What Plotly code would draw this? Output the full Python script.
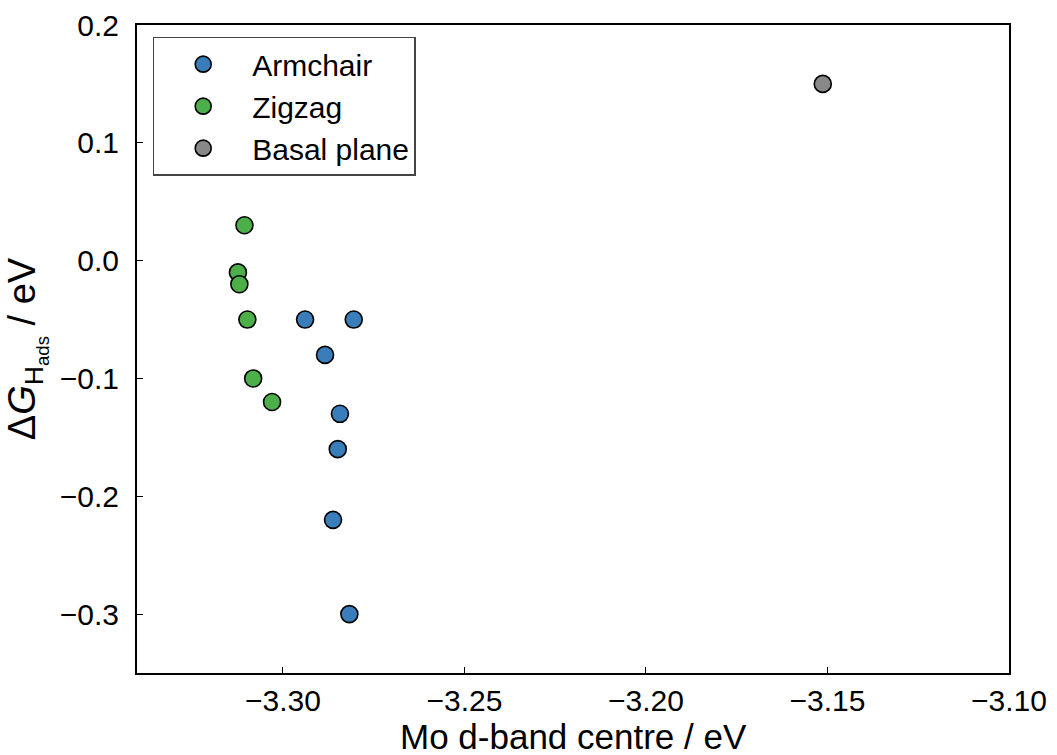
import plotly.graph_objects as go

# Data
armchair_x = [-3.2939, -3.2805, -3.2884, -3.2843, -3.2849, -3.2862, -3.2817]
armchair_y = [-0.05, -0.05, -0.08, -0.13, -0.16, -0.22, -0.30]

zigzag_x = [-3.3106, -3.3124, -3.3120, -3.3098, -3.3082, -3.3030]
zigzag_y = [0.03, -0.01, -0.02, -0.05, -0.10, -0.12]

basal_x = [-3.1513]
basal_y = [0.15]

x_ticks = [-3.30, -3.25, -3.20, -3.15, -3.10]
x_ticklabels = ["\u22123.30", "\u22123.25", "\u22123.20", "\u22123.15", "\u22123.10"]
y_ticks = [0.2, 0.1, 0.0, -0.1, -0.2, -0.3]
y_ticklabels = ["0.2", "0.1", "0.0", "\u22120.1", "\u22120.2", "\u22120.3"]

x_title = "Mo d-band centre / eV"
y_title = "\u0394<i>G</i><sub>H<sub>ads</sub></sub> / eV"

FONT = "Liberation Sans, Arial, Helvetica, sans-serif"

def marker(color):
    return dict(size=17, color=color, line=dict(color="black", width=1.6))

fig = go.Figure()
fig.add_trace(go.Scatter(x=armchair_x, y=armchair_y, mode="markers",
                         name="Armchair", marker=marker("#3a7dbb")))
fig.add_trace(go.Scatter(x=zigzag_x, y=zigzag_y, mode="markers",
                         name="Zigzag", marker=marker("#4daf4a")))
fig.add_trace(go.Scatter(x=basal_x, y=basal_y, mode="markers",
                         name="Basal plane", marker=marker("#888888")))

axis_common = dict(
    showline=True, linecolor="black", linewidth=2, mirror=True,
    ticks="inside", ticklen=6, tickwidth=1.2, tickcolor="black",
    showgrid=False, zeroline=False, automargin=False,
    tickfont=dict(family=FONT, size=30, color="black"),
)

fig.update_xaxes(
    range=[-3.3402, -3.10], tickvals=x_ticks, ticktext=x_ticklabels,
    ticklabelstandoff=0,
    **axis_common)
fig.update_yaxes(
    range=[-0.35, 0.2], tickvals=y_ticks, ticktext=y_ticklabels,
    ticklabelstandoff=10,
    title=dict(text=y_title, standoff=12,
               font=dict(family=FONT, size=38, color="black")),
    **axis_common)

fig.add_annotation(
    text=x_title, xref="paper", yref="paper", x=0.5, y=-0.0975,
    xanchor="center", yanchor="middle", showarrow=False,
    font=dict(family=FONT, size=35, color="black"))

fig.update_layout(
    width=1057, height=755,
    margin=dict(l=137, r=48, t=25, b=82),
    plot_bgcolor="white", paper_bgcolor="white",
    legend=dict(x=0.018, y=0.982, xanchor="left", yanchor="top",
                bordercolor="#444444", borderwidth=1.5, bgcolor="white",
                font=dict(family=FONT, size=30, color="black"),
                itemwidth=88, tracegroupgap=0),
    showlegend=True,
)

fig.write_html("out.html")
